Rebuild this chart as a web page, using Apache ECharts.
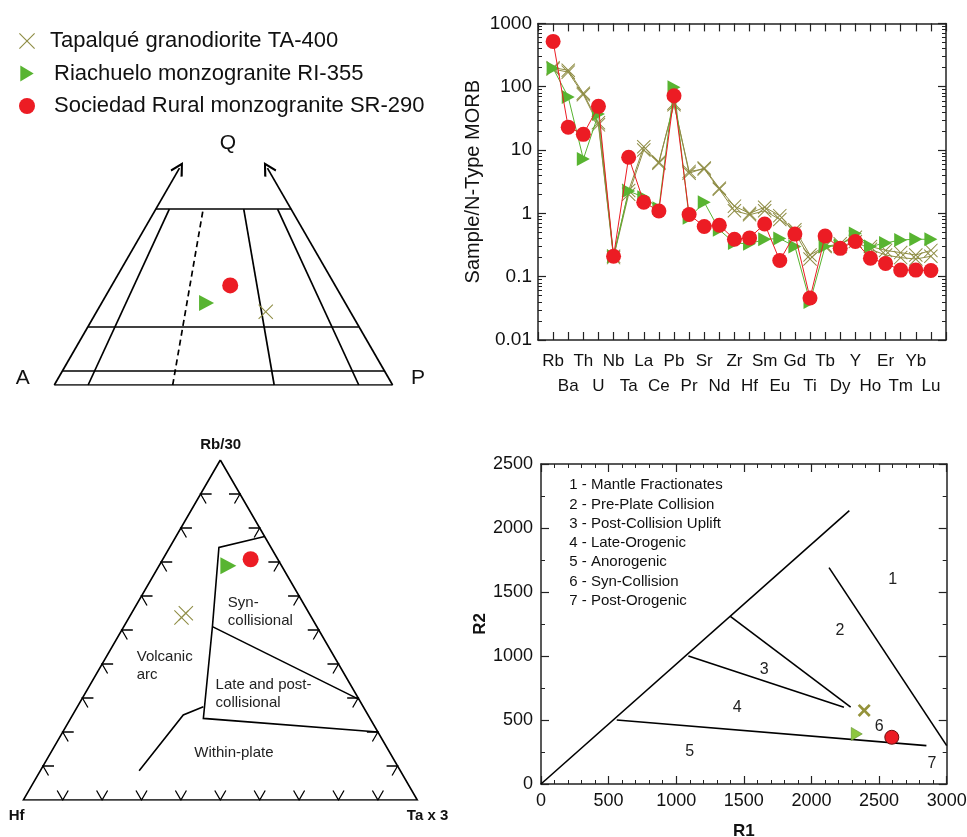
<!DOCTYPE html>
<html>
<head>
<meta charset="utf-8">
<script src="https://cdn.jsdelivr.net/npm/echarts@6/dist/echarts.min.js"></script>
<style>
  html, body { margin: 0; padding: 0; background: #fff; }
  #main { width: 967px; height: 837px; }
</style>
</head>
<body>
<div id="main"></div>
<script>
// --- spider diagram (sample / N-type MORB)
const elements = ['Rb', 'Ba', 'Th', 'U', 'Nb', 'Ta', 'La', 'Ce', 'Pb', 'Pr', 'Sr', 'Nd', 'Zr', 'Hf', 'Sm', 'Eu', 'Gd', 'Ti', 'Tb', 'Dy', 'Y', 'Ho', 'Er', 'Tm', 'Yb', 'Lu'];
const sr290 = [520, 23, 17.7, 49, 0.21, 7.7, 1.5, 1.09, 72, 0.96, 0.62, 0.65, 0.39, 0.41, 0.68, 0.18, 0.47, 0.046, 0.44, 0.28, 0.36, 0.195, 0.162, 0.127, 0.127, 0.125];
const ri355 = [195, 69, 7.2, 37, 0.21, 2.25, 1.8, 1.2, 98, 0.85, 1.5, 0.55, 0.34, 0.33, 0.39, 0.40, 0.30, 0.04, 0.30, 0.31, 0.48, 0.30, 0.34, 0.38, 0.39, 0.39];
const ta400a = [200, 182, 79, 27, 0.21, 2.3, 11.3, 6.2, 55, 4.3, 5.2, 2.5, 1.3, 1.0, 1.25, 0.92, 0.5, 0.19, 0.31, 0.3, 0.36, 0.27, 0.22, 0.2, 0.19, 0.21];
const ta400b = [190, 170, 75, 25, 0.2, 2.0, 10, 6.5, 52, 4.6, 5.0, 2.4, 1.1, 0.95, 1.1, 0.8, 0.55, 0.22, 0.3, 0.33, 0.42, 0.3, 0.26, 0.24, 0.22, 0.26];

// --- QAP diagram (percent Q, A, P)
const qapLevels = [0, 5, 20, 60];     // Q lines
const qapRatios = [10, 35, 65, 90];   // 100*P/(A+P)
const qapDashed = 35;
const qapArrowQ = 74;
const qapTA = [25, 25, 50];
const qapRI = [28, 41, 31];
const qapSR = [34, 31, 35];

// --- Rb/30 - Hf - Ta*3 diagram, points as [Rb/30, Hf, Ta*3]
const pearceTicks = [0.1, 0.2, 0.3, 0.4, 0.5, 0.6, 0.7, 0.8, 0.9];
const pearceSynLine = [[77.5, 0, 22.5], [74.3, 13.2, 12.5], [51, 26.5, 22.5], [24, 42.3, 33.7], [20, 0, 80]];
const pearceLateLine = [[51, 26.5, 22.5], [29.6, 0, 70.4]];
const pearceWithinLine = [[27.4, 40.6, 32], [25, 46.9, 28.1], [8.6, 66.3, 25.1]];
const pearceTA = [[53.7, 33, 13.3], [54.9, 31.3, 13.8]];
const pearceRI = [68.9, 13.5, 17.6];
const pearceSR = [70.8, 6.9, 22.3];

// --- R1-R2 diagram
const r1r2Lines = [
    [[0, 0], [2280, 2135]],
    [[2130, 1690], [3000, 300]],
    [[1400, 1310], [2290, 600]],
    [[1090, 1000], [2240, 600]],
    [[560, 500], [2850, 300]]
];
const r1r2FieldNames = ['Mantle Fractionates', 'Pre-Plate Collision', 'Post-Collision Uplift', 'Late-Orogenic', 'Anorogenic', 'Syn-Collision', 'Post-Orogenic'];
const r1r2FieldPos = [[2600, 1600], [2210, 1200], [1650, 890], [1450, 600], [1100, 250], [2500, 450], [2890, 160]];
const r1r2TA = [2390, 575];
const r1r2RI = [2335, 391];
const r1r2SR = [2594, 365];

const FONT = 'Liberation Sans, Arial, sans-serif';
const RED = '#ec1c24', GREEN = '#58b431', OLIVE = '#8f8d45';
const NAME_TA = 'Tapalqué granodiorite TA-400';
const NAME_RI = 'Riachuelo monzogranite RI-355';
const NAME_SR = 'Sociedad Rural monzogranite SR-290';

const xThin = 'path://M1,0L10,9L19,0L20,1L11,10L20,19L19,20L10,11L1,20L0,19L9,10L0,1Z';
const xThick = 'path://M3,0L10,7L17,0L20,3L13,10L20,17L17,20L10,13L3,20L0,17L7,10L0,3Z';
const triRight = 'path://M0,0L10,6L0,12Z';
const arrowHead = 'path://M6,0L12,9L10.5,10L6,3L1.5,10L0,9Z';

function qapXY(t) { const s = t[0] + t[1] + t[2]; return [(t[2] + t[0] / 2) / s, t[0] / s]; }
function pearceXY(t) { const s = t[0] + t[1] + t[2]; return [(t[2] + t[0] / 2) / s, t[0] / s]; }
function pairs(arr) { return arr.map((v, i) => [i, v]); }

// QAP field lines
const qapSolid = [], qapDash = [];
qapLevels.forEach(q => qapSolid.push({ coords: [qapXY([q, 100 - q, 0]), qapXY([q, 0, 100 - q])] }));
qapRatios.forEach(r => {
    const top = 100 - qapLevels[qapLevels.length - 1];
    const item = { coords: [qapXY([0, 100 - r, r]), qapXY([100 - top, top * (1 - r / 100), top * r / 100])] };
    if (r === qapDashed) { item.lineStyle = { type: [6, 4] }; qapDash.push(item); } else qapSolid.push(item);
});
const qapEdges = [
    { coords: [qapXY([0, 100, 0]), qapXY([qapArrowQ, 100 - qapArrowQ, 0])] },
    { coords: [qapXY([0, 0, 100]), qapXY([qapArrowQ, 0, 100 - qapArrowQ])] }
];

// Pearce triangle ticks (stubs parallel to the other two sides)
const d = 0.028;
const pearceTickLines = [];
pearceTicks.forEach(t => {
    pearceTickLines.push({ coords: [pearceXY([d, 1 - t - d, t]), pearceXY([0, 1 - t, t]), pearceXY([d, 1 - t, t - d])] });
    pearceTickLines.push({ coords: [pearceXY([t, 1 - t - d, d]), pearceXY([t, 1 - t, 0]), pearceXY([t - d, 1 - t, d])] });
    pearceTickLines.push({ coords: [pearceXY([t, d, 1 - t - d]), pearceXY([t, 0, 1 - t]), pearceXY([t - d, d, 1 - t])] });
});

const frame = { show: true, onZero: false, lineStyle: { color: '#222', width: 1.5 } };
const tickIn = (len) => ({ show: true, inside: true, length: len, lineStyle: { color: '#222', width: 1.2 } });
const minor = (n) => ({ show: true, splitNumber: n, length: 4, lineStyle: { color: '#222', width: 1 } });

function textSeries(xi, yi, items, label) {
    return {
        type: 'scatter', xAxisIndex: xi, yAxisIndex: yi,
        symbolSize: 0, clip: false, silent: true, z: 5,
        itemStyle: { opacity: 1 },
        data: items,
        label: Object.assign({ show: true, formatter: '{b}', color: '#111', fontFamily: FONT }, label)
    };
}

function points(name, xi, yi, symbol, size, style, data) {
    return {
        name: name, type: 'scatter', xAxisIndex: xi, yAxisIndex: yi, symbol: symbol, symbolSize: size,
        itemStyle: Object.assign({ opacity: 1 }, style), data: data, z: 4
    };
}

const myChart = echarts.init(document.getElementById('main'));

const option = {
    animation: false,
    backgroundColor: '#fff',
    textStyle: { fontFamily: FONT },
    legend: {
        orient: 'vertical', left: 14, top: 25,
        itemWidth: 18, itemHeight: 16, itemGap: 10.5,
        selectedMode: false,
        textStyle: { fontSize: 22, color: '#111', fontFamily: FONT, lineHeight: 22, padding: [0, 0, 0, 9] },
        data: [
            { name: NAME_TA, icon: xThin },
            { name: NAME_RI, icon: triRight, textStyle: { padding: [0, 0, 0, 13] } },
            { name: NAME_SR, icon: 'circle', textStyle: { padding: [0, 0, 0, 13] } }
        ]
    },
    grid: [
        { left: 54.3, top: 92, width: 338.3, height: 293, outerBoundsMode: 'none' },
        { left: 538, top: 23.4, width: 408, height: 316.6, outerBoundsMode: 'none' },
        { left: 23.3, top: 460, width: 394, height: 340, outerBoundsMode: 'none' },
        { left: 541, top: 464, width: 405.7, height: 320, outerBoundsMode: 'none' }
    ],
    xAxis: [
        { gridIndex: 0, type: 'value', min: 0, max: 1, show: false },
        {
            gridIndex: 1, type: 'value', min: -1, max: 26, interval: 1, position: 'bottom',
            axisLine: frame, axisTick: tickIn(8), splitLine: { show: false },
            axisLabel: {
                color: '#111', fontSize: 17, lineHeight: 25, margin: 8.5, fontFamily: FONT,
                formatter: v => { const i = Math.round(v); return (i < 0 || i >= elements.length) ? '' : (i % 2 ? '\n' : '') + elements[i]; }
            }
        },
        {
            gridIndex: 1, type: 'value', min: -1, max: 26, interval: 1, position: 'top',
            axisLine: frame, axisTick: tickIn(8), axisLabel: { show: false }, splitLine: { show: false }
        },
        { gridIndex: 2, type: 'value', min: 0, max: 1, show: false },
        {
            gridIndex: 3, type: 'value', min: 0, max: 3000, interval: 500, position: 'bottom',
            name: 'R1', nameLocation: 'middle', nameGap: 39,
            nameTextStyle: { fontSize: 17, fontWeight: 'bold', color: '#111', fontFamily: FONT },
            axisLine: frame, axisTick: tickIn(8), minorTick: minor(5), splitLine: { show: false },
            axisLabel: { color: '#111', fontSize: 18, margin: 8, fontFamily: FONT, formatter: v => String(v) }
        },
        {
            gridIndex: 3, type: 'value', min: 0, max: 3000, interval: 500, position: 'top',
            axisLine: frame, axisTick: tickIn(8), minorTick: minor(5), splitLine: { show: false }, axisLabel: { show: false }
        }
    ],
    yAxis: [
        { gridIndex: 0, type: 'value', min: 0, max: 1, show: false },
        {
            gridIndex: 1, type: 'log', logBase: 10, min: 0.01, max: 1000, position: 'left',
            name: 'Sample/N-Type MORB', nameLocation: 'middle', nameGap: 55,
            nameTextStyle: { fontSize: 20, color: '#111', fontFamily: FONT },
            axisLine: frame, axisTick: tickIn(8), minorTick: minor(9), splitLine: { show: false },
            axisLabel: { color: '#111', fontSize: 19, margin: 6, fontFamily: FONT, formatter: v => String(+(+v).toPrecision(6)) }
        },
        {
            gridIndex: 1, type: 'log', logBase: 10, min: 0.01, max: 1000, position: 'right',
            axisLine: frame, axisTick: tickIn(8), minorTick: minor(9), splitLine: { show: false }, axisLabel: { show: false }
        },
        { gridIndex: 2, type: 'value', min: 0, max: 1, show: false },
        {
            gridIndex: 3, type: 'value', min: 0, max: 2500, interval: 500, position: 'left',
            name: 'R2', nameLocation: 'middle', nameGap: 28,
            nameTextStyle: { fontSize: 17, fontWeight: 'bold', color: '#111', fontFamily: FONT },
            axisLine: frame, axisTick: tickIn(8), minorTick: minor(2), splitLine: { show: false },
            axisLabel: { color: '#111', fontSize: 18, margin: 8, fontFamily: FONT, formatter: v => String(v) }
        },
        {
            gridIndex: 3, type: 'value', min: 0, max: 2500, interval: 500, position: 'right',
            axisLine: frame, axisTick: tickIn(8), minorTick: minor(2), splitLine: { show: false }, axisLabel: { show: false }
        }
    ],
    series: [
        // spider diagram
        {
            name: NAME_TA, type: 'line', xAxisIndex: 1, yAxisIndex: 1, data: pairs(ta400a),
            symbol: xThin, symbolSize: 14, lineStyle: { color: OLIVE, width: 1 }, itemStyle: { color: OLIVE }, z: 2
        },
        {
            name: NAME_TA, type: 'line', xAxisIndex: 1, yAxisIndex: 1, data: pairs(ta400b),
            symbol: xThin, symbolSize: 14, lineStyle: { color: OLIVE, width: 1 }, itemStyle: { color: OLIVE }, z: 2
        },
        {
            name: NAME_RI, type: 'line', xAxisIndex: 1, yAxisIndex: 1, data: pairs(ri355),
            symbol: triRight, symbolSize: [13, 14], lineStyle: { color: GREEN, width: 1 }, itemStyle: { color: GREEN }, z: 3
        },
        {
            name: NAME_SR, type: 'line', xAxisIndex: 1, yAxisIndex: 1, data: pairs(sr290),
            symbol: 'circle', symbolSize: 15, lineStyle: { color: RED, width: 1 }, itemStyle: { color: RED }, z: 4
        },

        // QAP diagram
        {
            type: 'lines', coordinateSystem: 'cartesian2d', xAxisIndex: 0, yAxisIndex: 0, silent: true,
            lineStyle: { color: '#000', width: 1.7, opacity: 1 }, data: qapSolid.concat(qapDash)
        },
        {
            type: 'lines', coordinateSystem: 'cartesian2d', xAxisIndex: 0, yAxisIndex: 0, silent: true,
            symbol: ['none', arrowHead], symbolSize: 14,
            lineStyle: { color: '#000', width: 1.7, opacity: 1 }, data: qapEdges
        },
        points(NAME_TA, 0, 0, xThin, 15, { color: OLIVE }, [qapXY(qapTA)]),
        points(NAME_RI, 0, 0, triRight, [15, 16], { color: GREEN }, [qapXY(qapRI)]),
        points(NAME_SR, 0, 0, 'circle', 16, { color: RED }, [qapXY(qapSR)]),
        textSeries(0, 0, [
            { name: 'Q', value: [0.513, 0.826] },
            { name: 'A', value: [-0.093, 0.024] },
            { name: 'P', value: [1.075, 0.024] }
        ], { position: 'inside', fontSize: 21 }),

        // Rb/30 - Hf - Ta*3 diagram
        {
            type: 'lines', coordinateSystem: 'cartesian2d', xAxisIndex: 3, yAxisIndex: 3, silent: true, polyline: true,
            lineStyle: { color: '#000', width: 1.6, opacity: 1 },
            data: [
                { coords: [pearceXY([1, 0, 0]), pearceXY([0, 1, 0]), pearceXY([0, 0, 1]), pearceXY([1, 0, 0])] },
                { coords: pearceSynLine.map(pearceXY) },
                { coords: pearceLateLine.map(pearceXY) },
                { coords: pearceWithinLine.map(pearceXY) }
            ]
        },
        {
            type: 'lines', coordinateSystem: 'cartesian2d', xAxisIndex: 3, yAxisIndex: 3, silent: true, polyline: true,
            lineStyle: { color: '#000', width: 1.3, opacity: 1 }, data: pearceTickLines
        },
        points(NAME_TA, 3, 3, xThin, 15, { color: OLIVE }, pearceTA.map(pearceXY)),
        points(NAME_RI, 3, 3, triRight, [16, 17], { color: GREEN }, [pearceXY(pearceRI)]),
        points(NAME_SR, 3, 3, 'circle', 16, { color: RED }, [pearceXY(pearceSR)]),
        textSeries(3, 3, [
            { name: 'Rb/30', value: [0.501, 1.044] },
            { name: 'Hf', value: [-0.017, -0.047] },
            { name: 'Ta x 3', value: [1.026, -0.047] }
        ], { position: 'inside', fontSize: 15, fontWeight: 'bold' }),
        textSeries(3, 3, [
            { name: 'Syn-\ncollisional', value: [0.519, 0.553] },
            { name: 'Volcanic\narc', value: [0.288, 0.394] },
            { name: 'Late and post-\ncollisional', value: [0.488, 0.311] },
            { name: 'Within-plate', value: [0.434, 0.139] }
        ], { position: 'right', distance: 0, fontSize: 15, lineHeight: 18, color: '#222' }),

        // R1-R2 diagram
        {
            type: 'lines', coordinateSystem: 'cartesian2d', xAxisIndex: 4, yAxisIndex: 4, silent: true,
            lineStyle: { color: '#000', width: 1.6, opacity: 1 },
            data: r1r2Lines.map(c => ({ coords: c }))
        },
        points(NAME_TA, 4, 4, xThick, 13, { color: '#94923a' }, [r1r2TA]),
        points(NAME_RI, 4, 4, triRight, [11, 13], { color: '#8dc63f', borderColor: '#5f8f2a', borderWidth: 0.6 }, [r1r2RI]),
        points(NAME_SR, 4, 4, 'circle', 14, { color: RED, borderColor: '#6a1010', borderWidth: 1 }, [r1r2SR]),
        textSeries(4, 4, r1r2FieldPos.map((p, i) => ({ name: String(i + 1), value: p })),
            { position: 'inside', fontSize: 16, color: '#222' }),
        textSeries(4, 4, [{ name: r1r2FieldNames.map((n, i) => (i + 1) + ' - ' + n).join('\n'), value: [209, 1883] }],
            { position: 'right', distance: 0, fontSize: 15, lineHeight: 19.3, color: '#111' })
    ]
};

myChart.setOption(option);
</script>
</body>
</html>
